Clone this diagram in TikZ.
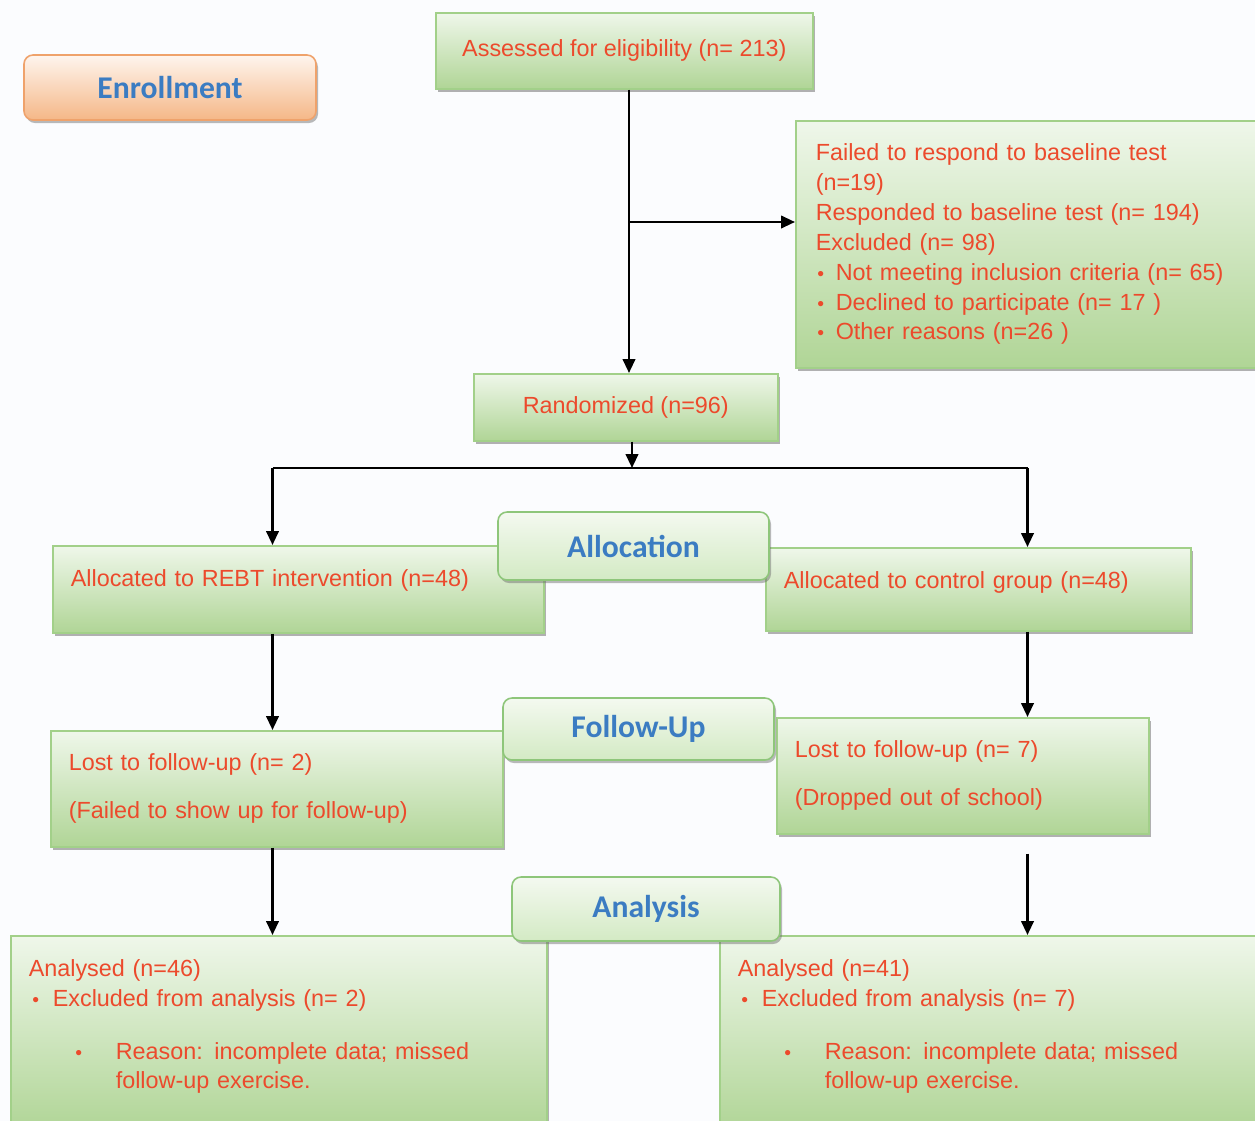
\documentclass[tikz,border=0pt]{standalone}
\usepackage{fontspec}
\setmainfont{Liberation Sans}
\newfontfamily\phasefont{Carlito}
\usetikzlibrary{arrows.meta,positioning,shadows}
\definecolor{redtext}{HTML}{EC4A2C}
\definecolor{phaseblue}{HTML}{3B7CC2}
\definecolor{boxline}{HTML}{A2D089}
\definecolor{boxtop}{HTML}{EFF7EA}
\definecolor{boxbot}{HTML}{B0D596}
\definecolor{tagtop}{HTML}{F4F9F0}
\definecolor{tagbot}{HTML}{D3EAC4}
\definecolor{tagline}{HTML}{8EC67A}
\definecolor{enrtop}{HTML}{FEF5EE}
\definecolor{enrbot}{HTML}{F5B787}
\definecolor{enrline}{HTML}{EFA26B}
\definecolor{pagebg}{HTML}{FBFCFE}
\newcommand{\boxsize}{\fontsize{13.3}{17}\selectfont}
\newcommand{\bul}[1]{\makebox[#1][l]{\hspace{0.03cm}{\fontsize{11}{11}\selectfont\textbullet}}}
\tikzset{
  greenbox/.style={draw=boxline,line width=0.9pt,top color=boxtop,bottom color=boxbot,align=left,font=\boxsize,text=redtext,inner xsep=0.36cm,anchor=north west,drop shadow={shadow xshift=0.05cm,shadow yshift=-0.06cm,fill=black!60,opacity=0.5}},
  phase/.style={draw=tagline,line width=0.9pt,rounded corners=0.18cm,top color=tagtop,bottom color=tagbot,font={\phasefont\bfseries\fontsize{18}{20}\selectfont},text=phaseblue,drop shadow={shadow xshift=0.04cm,shadow yshift=-0.06cm,fill=black!60,opacity=0.45}},
  flow/.style={-{Triangle[length=2.8mm,width=2.5mm]},line width=1.4pt},
}
\begin{document}
\begin{tikzpicture}
  \fill[pagebg] (0,0) rectangle (25.1,-22.42);
  \useasboundingbox (0,0) rectangle (25.1,-22.42);
  % enrollment
  \node[greenbox,minimum width=7.54cm,minimum height=1.52cm] (assess) at (8.70,-0.24) {Assessed for eligibility (n= 213)};
  \node[greenbox,text width=8.4cm,inner xsep=0.4cm,minimum height=4.94cm] (excl) at (15.90,-2.40) {Failed to respond to baseline test\\ (n=19)\\ Responded to baseline test (n= 194)\\ Excluded (n= 98)\\ \bul{0.4cm}Not meeting inclusion criteria (n= 65)\\ \bul{0.4cm}Declined to participate (n= 17 )\\ \bul{0.4cm}Other reasons (n=26 )};
  \node[greenbox,minimum width=6.08cm,minimum height=1.34cm] (rand) at (9.46,-7.46) {Randomized (n=96)};
  % allocation
  \node[greenbox,text width=9.10cm,text depth=0.44cm,minimum height=1.74cm] (allocL) at (1.04,-10.90) {Allocated to REBT intervention (n=48)};
  \node[greenbox,text width=7.78cm,text depth=0.36cm,minimum height=1.66cm] (allocR) at (15.30,-10.94) {Allocated to control group (n=48)};
  % follow-up
  \node[greenbox,text width=8.32cm,minimum height=2.32cm] (lostL) at (1.00,-14.60) {Lost to follow-up (n= 2)\\[0.36cm](Failed to show up for follow-up)};
  \node[greenbox,text width=6.72cm,minimum height=2.32cm] (lostR) at (15.52,-14.34) {Lost to follow-up (n= 7)\\[0.36cm](Dropped out of school)};
  % analysis
  \node[greenbox,text width=10.0cm,text depth=2.62cm,minimum height=3.9cm] (anaL) at (0.20,-18.70) {Analysed (n=46)\\ \hspace*{0.04cm}\bul{0.44cm}Excluded from analysis (n= 2)\\[0.46cm] \hspace*{0.9cm}\bul{0.84cm}Reason: incomplete data; missed\\ \hspace*{1.74cm}follow-up exercise.};
  \node[greenbox,text width=10.08cm,text depth=2.62cm,minimum height=3.9cm] (anaR) at (14.38,-18.70) {Analysed (n=41)\\ \hspace*{0.04cm}\bul{0.44cm}Excluded from analysis (n= 7)\\[0.46cm] \hspace*{0.9cm}\bul{0.84cm}Reason: incomplete data; missed\\ \hspace*{1.74cm}follow-up exercise.};
  % connectors
  \coordinate (trunk) at (12.58,-4.44);
  \coordinate (split) at (12.64,-9.36);
  \coordinate (lcol) at (5.45,-9.36);
  \coordinate (rcol) at (20.55,-9.36);
  \coordinate (gapR) at ([yshift=-0.38cm]lostR.south);
  \draw[flow] (assess.south -| trunk) -- (rand.north -| trunk);
  \draw[flow] (trunk) -- (trunk -| excl.west);
  \draw[flow] (rand.south -| split) -- (split);
  \draw[line width=1.4pt] (lcol) -- (rcol);
  \foreach \c/\b in {lcol/allocL,rcol/allocR} \draw[flow] (\c) -- (\c |- \b.north);
  \foreach \a/\b/\c in {allocL/lostL/lcol,allocR/lostR/rcol,lostL/anaL/lcol} \draw[flow] (\a.south -| \c) -- (\b.north -| \c);
  \draw[flow] (gapR -| rcol) -- (anaR.north -| rcol);
  % phase tags
  \node[phase,top color=enrtop,bottom color=enrbot,draw=enrline,minimum width=5.84cm,minimum height=1.30cm] (enroll) at (3.40,-1.75) {Enrollment};
  \node[phase,minimum width=5.42cm,minimum height=1.36cm] (alloc) at (12.67,-10.92) {Allocation};
  \node[phase,minimum width=5.42cm,minimum height=1.24cm] (follow) at (12.77,-14.58) {Follow-Up};
  \node[phase,minimum width=5.36cm,minimum height=1.28cm] (analysis) at (12.92,-18.18) {Analysis};
\end{tikzpicture}
\end{document}
